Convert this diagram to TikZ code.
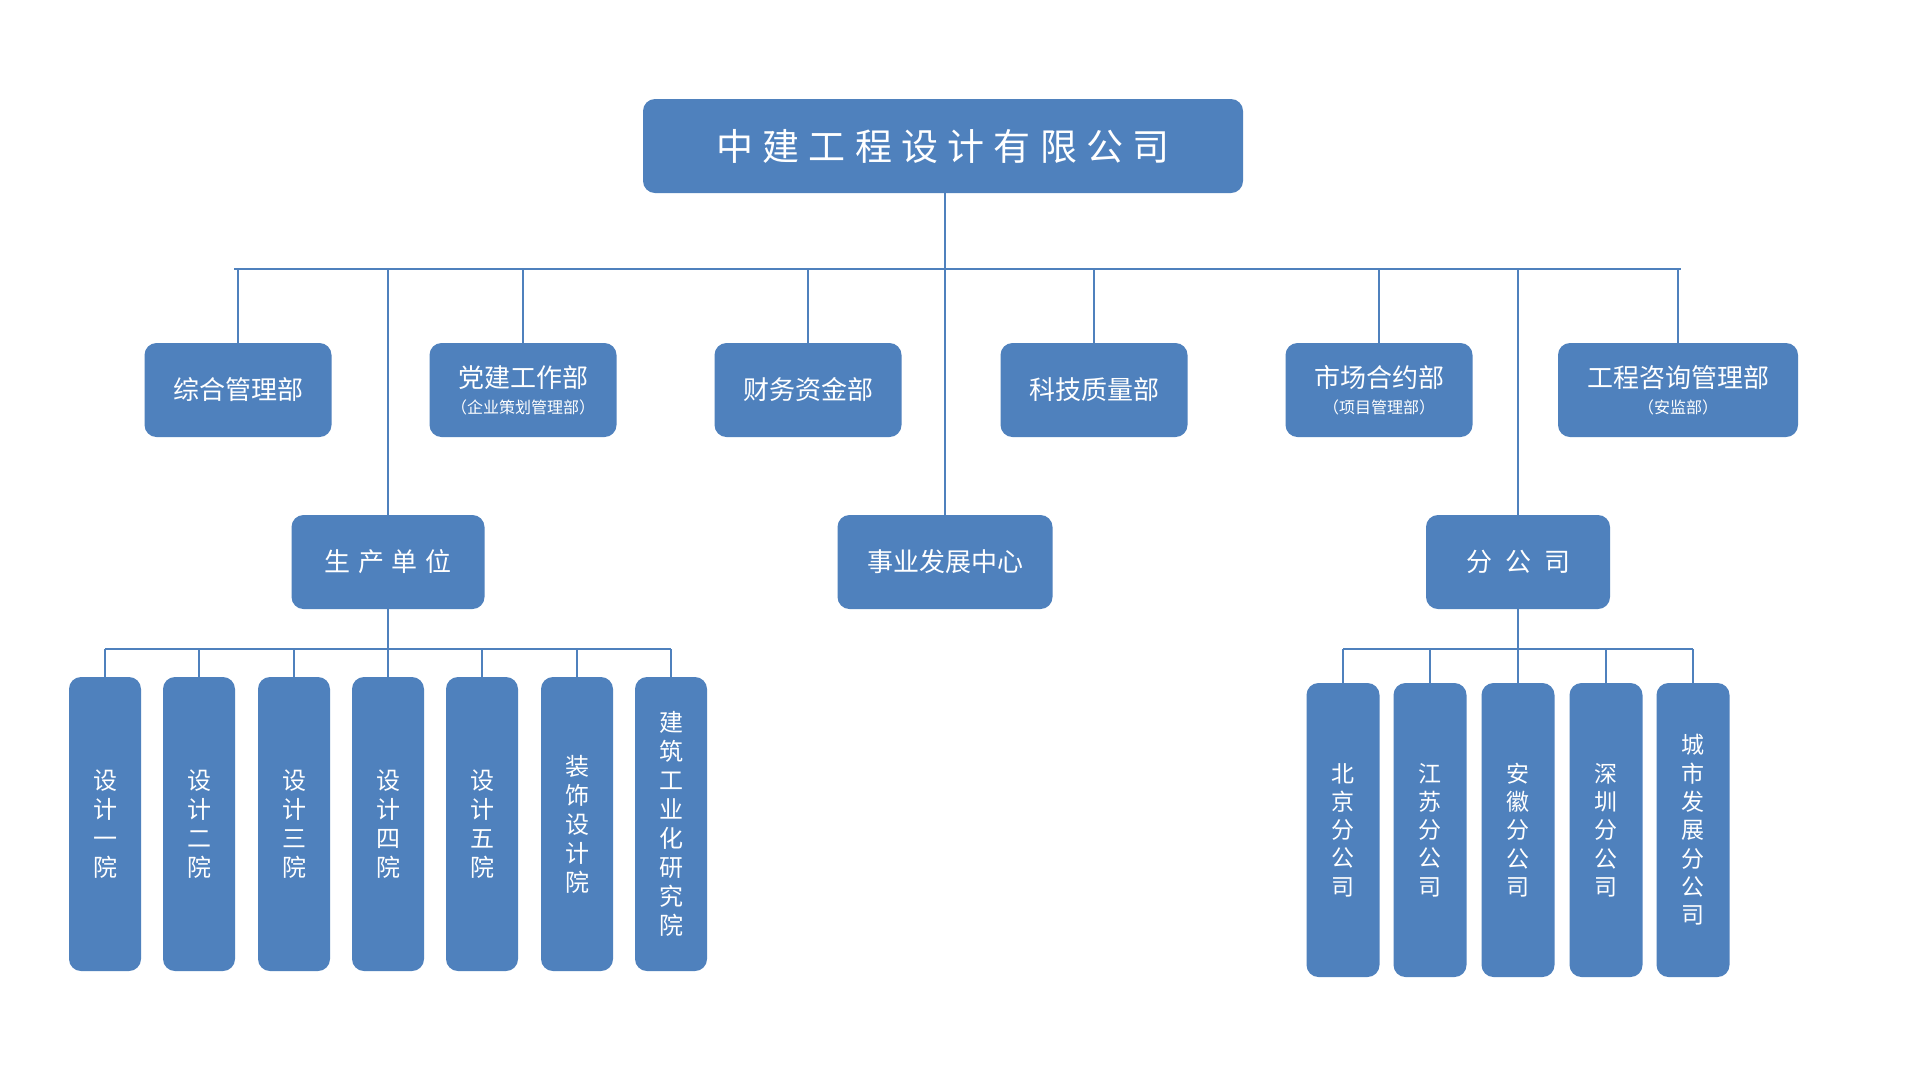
\documentclass[tikz,border=0pt]{standalone}
\usepackage{fontspec}
\setmainfont{Noto Sans CJK SC}
\newfontfamily\cjkwide[LetterSpace=25]{Noto Sans CJK SC}
\newfontfamily\cjkmid[LetterSpace=30]{Noto Sans CJK SC}
\newfontfamily\cjkfar[LetterSpace=50]{Noto Sans CJK SC}
\definecolor{boxblue}{HTML}{4F81BD}
\tikzset{
  orgbox/.style={fill=boxblue, rounded corners=12pt, text=white, inner sep=0pt, align=center},
  deptbox/.style={orgbox, minimum width=187pt, minimum height=94pt, font=\fontsize{26}{30}\selectfont},
  unitbox/.style={orgbox, minimum width=72pt, minimum height=294pt, font=\fontsize{24}{29}\selectfont},
  branchbox/.style={orgbox, minimum width=73pt, minimum height=294pt, font=\fontsize{23}{28.3}\selectfont},
  link/.style={draw=boxblue, line width=2pt}
}
\newcommand{\subtxt}[1]{{\fontsize{16}{18}\selectfont #1}}
\begin{document}
\begin{tikzpicture}[x=1pt,y=-1pt]
\useasboundingbox[fill=white] (0,0) rectangle (1920,1080);
% top
\node[orgbox, minimum width=600pt, minimum height=94pt, font=\fontsize{37}{40}\selectfont\cjkwide] (top) at (943,146) {中建工程设计有限公司};
% bus
\coordinate (busL) at (234,269);
\coordinate (busR) at (1681,269);
% second row
\node[deptbox] (b1) at (238,390) {综合管理部};
\node[deptbox] (b2) at (523,390) {党建工作部\\[-4pt]\subtxt{（企业策划管理部）}};
\node[deptbox] (b3) at (808,390) {财务资金部};
\node[deptbox] (b4) at (1094,390) {科技质量部};
\node[deptbox] (b5) at (1379,390) {市场合约部\\[-4pt]\subtxt{（项目管理部）}};
\node[deptbox, minimum width=240pt] (b6) at (1678,390) {工程咨询管理部\\[-4pt]\subtxt{（安监部）}};
% third row
\node[deptbox, minimum width=193pt, font=\fontsize{26}{30}\selectfont\cjkmid] (c1) at (388,562) {生产单位};
\node[deptbox, minimum width=215pt] (c2) at (945,562) {事业发展中心};
\node[deptbox, minimum width=184pt, font=\fontsize{26}{30}\selectfont\cjkfar] (c3) at (1518,562) {分公司};
% bottom left
\node[unitbox] (d1) at (105,824) {设\\计\\一\\院};
\node[unitbox] (d2) at (199,824) {设\\计\\二\\院};
\node[unitbox] (d3) at (294,824) {设\\计\\三\\院};
\node[unitbox] (d4) at (388,824) {设\\计\\四\\院};
\node[unitbox] (d5) at (482,824) {设\\计\\五\\院};
\node[unitbox] (d6) at (577,824) {装\\饰\\设\\计\\院};
\node[unitbox] (d7) at (671,824) {建\\筑\\工\\业\\化\\研\\究\\院};
% bottom right
\node[branchbox] (e1) at (1343,830) {北\\京\\分\\公\\司};
\node[branchbox] (e2) at (1430,830) {江\\苏\\分\\公\\司};
\node[branchbox] (e3) at (1518,830) {安\\徽\\分\\公\\司};
\node[branchbox] (e4) at (1606,830) {深\\圳\\分\\公\\司};
\node[branchbox] (e5) at (1693,830) {城\\市\\发\\展\\分\\公\\司};
\coordinate (lb) at (388,649);
\coordinate (rb) at (1518,649);
% connectors
\draw[link] (busL) -- (busR);
\draw[link] (top.south -| c2.north) -- (c2.north|-busL);
\foreach \n in {b1,b2,b3,b4,b5,b6,c1,c2,c3}
  \draw[link] (\n.north) -- (\n.north|-busL);
\draw[link] (c1.south) -- (lb);
\draw[link] (d1.north|-lb) -- (d7.north|-lb);
\foreach \n in {d1,d2,d3,d4,d5,d6,d7}
  \draw[link] (\n.north) -- (\n.north|-lb);
\draw[link] (c3.south) -- (rb);
\draw[link] (e1.north|-rb) -- (e5.north|-rb);
\foreach \n in {e1,e2,e3,e4,e5}
  \draw[link] (\n.north) -- (\n.north|-rb);
\end{tikzpicture}
\end{document}
